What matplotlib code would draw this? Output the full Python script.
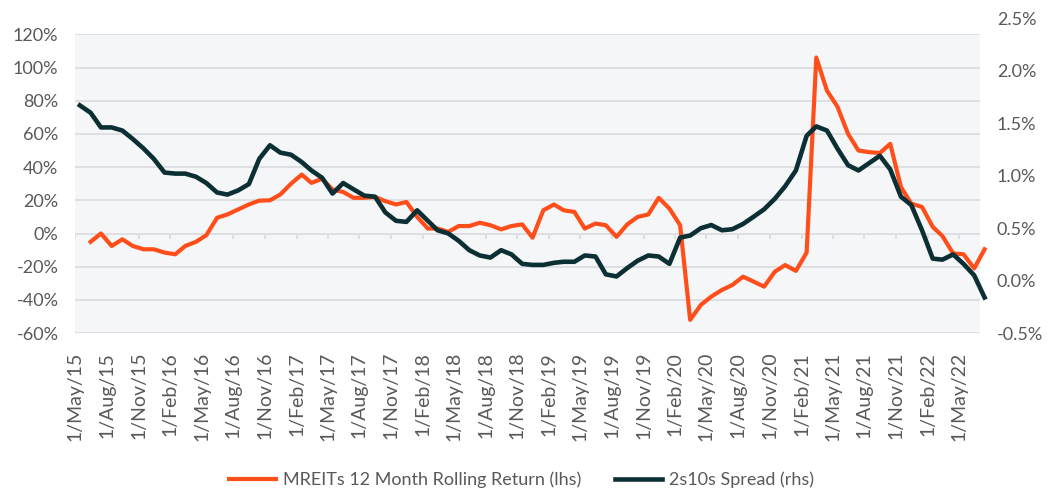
import numpy as np
import pandas as pd
import matplotlib
matplotlib.use("Agg")
import matplotlib.pyplot as plt
from matplotlib.ticker import FuncFormatter

plt.rcParams['font.family'] = ['Lato', 'DejaVu Sans']

# MREITs 12 month rolling return (%), monthly Jun 2015 - Jul 2022
mreit_return = [
    -5, 0, -7.5, -3.5, -7.5, -9.5, -9.5, -11.5, -12.5, -7.5,
    -5, -1, 9.5, 11.5, 14.5, 17.5, 19.8, 20, 23.5, 30,
    35.5, 30.5, 33, 26.5, 25, 21.5, 21.5, 22, 19.5, 17.5,
    19, 10, 3, 3, 1, 4.5, 4.5, 6.5, 5, 2.5,
    4.5, 5.5, -2.5, 14, 17.5, 14, 13, 3, 6, 5,
    -2, 5.5, 10, 11.5, 21.5, 15, 5, -52, -43, -38,
    -34, -31, -26, -29, -32, -23, -19, -22.5, -11.5, 106,
    86, 76.5, 60, 50, 49, 48.5, 54, 28, 18, 16,
    4, -1.5, -12, -12.5, -21, -9.5,
]

# 2s10s spread (%), monthly May 2015 - Jul 2022
spread_2s10s = [
    1.67, 1.60, 1.46, 1.46, 1.43, 1.35, 1.26, 1.16, 1.03, 1.02,
    1.02, 0.99, 0.93, 0.84, 0.82, 0.86, 0.92, 1.16, 1.29, 1.22,
    1.20, 1.13, 1.05, 0.98, 0.83, 0.93, 0.87, 0.81, 0.80, 0.65,
    0.57, 0.56, 0.67, 0.57, 0.48, 0.45, 0.38, 0.29, 0.24, 0.22,
    0.29, 0.25, 0.16, 0.15, 0.15, 0.17, 0.18, 0.18, 0.24, 0.23,
    0.06, 0.04, 0.12, 0.19, 0.24, 0.23, 0.16, 0.41, 0.43, 0.50,
    0.53, 0.48, 0.49, 0.54, 0.61, 0.68, 0.78, 0.90, 1.05, 1.38,
    1.47, 1.43, 1.26, 1.10, 1.05, 1.12, 1.19, 1.06, 0.80, 0.72,
    0.48, 0.21, 0.20, 0.25, 0.16, 0.05, -0.16,
]

months = pd.date_range('2015-05-01', periods=len(spread_2s10s), freq='MS') + pd.Timedelta(days=14)
mreit_dates = months[1:]

tick_dates = pd.date_range('2015-05-01', '2022-05-01', freq='3MS')
tick_labels = [f"{d.day}/{d:%b/%y}" for d in tick_dates]

orange = '#FF4E1A'
dark = '#0B2F33'
grey_txt = '#595959'
grid_col = '#DCDDE0'

fig = plt.figure(figsize=(10.63, 4.93), dpi=100)
ax = fig.add_axes([0.0706, 0.3243, 0.8514, 0.6061])
ax2 = fig.add_axes([0.0706, 0.3243, 0.8514, 0.6386], sharex=ax)

# left axis
ax.set_facecolor('#F5F6F8')
for s in ax.spines.values():
    s.set_visible(False)
ax.set_ylim(-60, 120)
ax.set_yticks(np.arange(-60, 121, 20))
ax.yaxis.set_major_formatter(FuncFormatter(lambda v, p: f"{v:.0f}%"))
ax.yaxis.grid(True, color=grid_col, lw=1.3)
ax.set_axisbelow(True)
ax.tick_params(axis='y', length=0, pad=12, labelsize=13, colors=grey_txt)
ax.set_xlim(pd.Timestamp('2015-05-01'), pd.Timestamp('2022-07-02'))
ax.set_xticks(tick_dates)
ax.set_xticklabels(tick_labels, rotation=90)
ax.tick_params(axis='x', length=0, pad=13.5, labelsize=14, colors=grey_txt)
# small category ticks sitting on the zero line
ax.vlines(tick_dates, -3.6, 0, color=grid_col, lw=1.3, zorder=1)

l1, = ax.plot(mreit_dates, mreit_return, color=orange, lw=3, zorder=3,
              clip_on=False, solid_joinstyle='round',
              label='MREITs 12 Month Rolling Return (lhs)')

# right axis
ax2.patch.set_visible(False)
for s in ax2.spines.values():
    s.set_visible(False)
ax2.set_ylim(-0.5, 2.5)
ax2.set_yticks(np.arange(-0.5, 2.51, 0.5))
ax2.yaxis.set_major_formatter(FuncFormatter(lambda v, p: f"{v:.1f}%"))
ax2.yaxis.tick_right()
ax2.tick_params(axis='y', length=0, pad=12, labelsize=13, colors=grey_txt)
ax2.xaxis.set_visible(False)

l2, = ax2.plot(months, spread_2s10s, color=dark, lw=3.3, clip_on=False,
               solid_joinstyle='round', label='2s10s Spread (rhs)')

fig.legend(handles=[l1, l2], loc='center', bbox_to_anchor=(0.4906, 0.027),
           ncol=2, frameon=False, fontsize=13, labelcolor=grey_txt,
           handlelength=2.6, handletextpad=0.4, columnspacing=1.9)

fig.savefig('out.png', dpi=100)
